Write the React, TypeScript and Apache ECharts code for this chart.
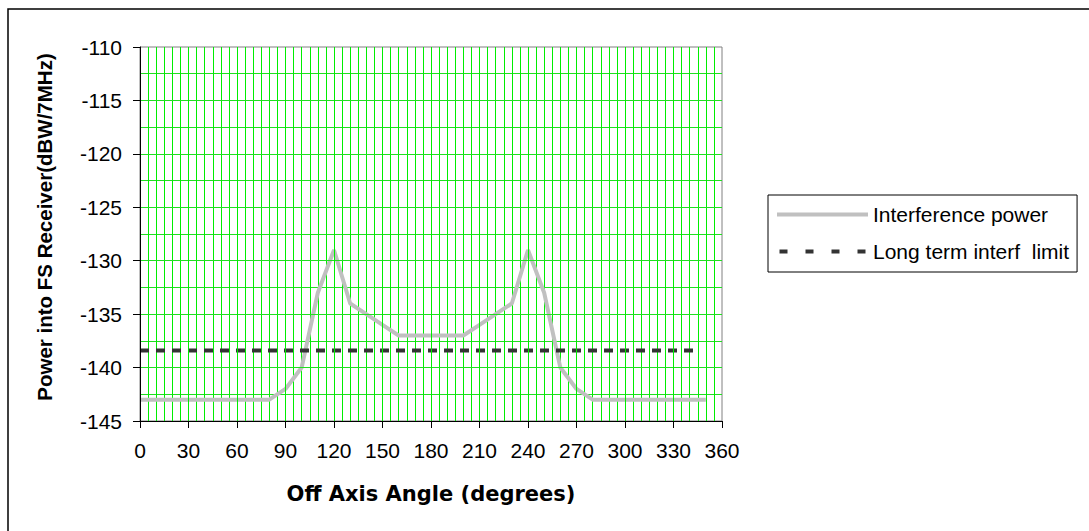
import React, { useEffect, useRef } from "react";
import * as echarts from "echarts";

const angles = [0, 10, 20, 30, 40, 50, 60, 70, 80, 90, 100, 110, 120, 130, 140, 150, 160, 170, 180, 190, 200, 210, 220, 230, 240, 250, 260, 270, 280, 290, 300, 310, 320, 330, 340, 350];
const interferencePower = [-143, -143, -143, -143, -143, -143, -143, -143, -143, -142, -140, -133, -129, -134, -135, -136, -137, -137, -137, -137, -137, -136, -135, -134, -129, -133, -140, -142, -143, -143, -143, -143, -143, -143, -143, -143];
const limitAngles = [0, 345];
const limitValues = [-138.4, -138.4];
const seriesNames = ["Interference power", "Long term interf  limit"];
const xTitle = "Off Axis Angle (degrees)";
const yTitle = "Power into FS Receiver(dBW/7MHz)";

const SANS = '"Liberation Sans", Arial, sans-serif';
const DASH_ICON = "path://M0,0h8v4H0z M26,0h8v4h-8z M52,0h8v4h-8z M78,0h8v4h-8z";

export default function App() {
  const ref = useRef<HTMLDivElement>(null);
  useEffect(() => {
    if (!ref.current) return;
    const chart = echarts.init(ref.current, null, { renderer: "svg" });
    const vGreen = "#00ee00";
    const hGreen = "#22dd22";
    const hidden = {
      axisLine: { show: false },
      axisTick: { show: false },
      axisLabel: { show: false },
    };
    chart.setOption({
      animation: false,
      backgroundColor: "#ffffff",
      graphic: [
        {
          type: "rect",
          z: -10,
          shape: { x: 8, y: 9, width: 1200, height: 700 },
          style: { fill: "none", stroke: "#000000", lineWidth: 1.5 },
        },
      ],
      grid: {
        left: 140,
        right: 367,
        top: 47,
        bottom: 110,
        show: true,
        borderColor: "#808080",
        borderWidth: 1,
        backgroundColor: "transparent",
      },
      legend: {
        orient: "vertical",
        left: 768,
        top: 195,
        itemWidth: 91,
        itemHeight: 4,
        itemGap: 16,
        padding: [9, 8, 10, 7],
        borderColor: "#000000",
        borderWidth: 1,
        backgroundColor: "#ffffff",
        itemStyle: { opacity: 0 },
        textStyle: { fontSize: 21, color: "#000000", fontFamily: SANS },
        data: [
          { name: seriesNames[0], lineStyle: { width: 4, color: "#c0c0c0" } },
          { name: seriesNames[1], icon: DASH_ICON, itemStyle: { opacity: 1, color: "#333333" } },
        ],
      },
      xAxis: [
        {
          type: "value",
          min: 0,
          max: 360,
          interval: 30,
          name: xTitle,
          nameLocation: "middle",
          nameGap: 62,
          nameTextStyle: { fontSize: 21, fontWeight: "bold", color: "#000000", fontFamily: '"DejaVu Sans", sans-serif' },
          axisLine: { show: true, lineStyle: { color: "#000000", width: 1 } },
          axisTick: { show: true, length: 7, lineStyle: { color: "#000000" } },
          axisLabel: { fontSize: 21, color: "#000000", margin: 19, fontFamily: SANS },
          splitLine: { show: true, showMinLine: false, showMaxLine: false, lineStyle: { color: vGreen, width: 1 } },
          z: 5,
        },
        {
          type: "value",
          min: 0,
          max: 360,
          interval: 5,
          position: "bottom",
          ...hidden,
          splitLine: { show: true, showMinLine: false, showMaxLine: false, lineStyle: { color: vGreen, width: 1 } },
          z: 1,
        },
      ],
      yAxis: [
        {
          type: "value",
          min: -145,
          max: -110,
          interval: 5,
          name: yTitle,
          nameLocation: "middle",
          nameRotate: 90,
          nameGap: 85,
          nameTextStyle: { fontSize: 20.5, fontWeight: "bold", color: "#000000", fontFamily: SANS, padding: [0, 0, 0, 14] },
          axisLine: { show: true, lineStyle: { color: "#000000", width: 1 } },
          axisTick: { show: true, length: 7, lineStyle: { color: "#000000" } },
          axisLabel: { fontSize: 21, color: "#000000", margin: 18, fontFamily: SANS },
          splitLine: { show: true, showMinLine: false, showMaxLine: false, lineStyle: { color: hGreen, width: 1 } },
          z: 5,
        },
        {
          type: "value",
          min: -145,
          max: -110,
          interval: 2.5,
          position: "left",
          ...hidden,
          splitLine: { show: true, showMinLine: false, showMaxLine: false, lineStyle: { color: hGreen, width: 1 } },
          z: 1,
        },
      ],
      series: [
        {
          name: seriesNames[0],
          type: "line",
          symbol: "none",
          xAxisIndex: 0,
          yAxisIndex: 0,
          data: angles.map((a, i) => [a, interferencePower[i]]),
          lineStyle: { color: "#c0c0c0", width: 4 },
          itemStyle: { color: "#c0c0c0" },
          z: 3,
        },
        {
          name: seriesNames[1],
          type: "line",
          symbol: "none",
          xAxisIndex: 0,
          yAxisIndex: 0,
          data: limitAngles.map((a, i) => [a, limitValues[i]]),
          lineStyle: { color: "#333333", width: 4, type: [9, 7] },
          itemStyle: { color: "#333333" },
          z: 4,
        },
      ],
    });
    return () => chart.dispose();
  }, []);
  return (
    <div
      ref={ref}
      style={{ position: "fixed", left: 0, top: 0, width: 1089, height: 531 }}
    />
  );
}
